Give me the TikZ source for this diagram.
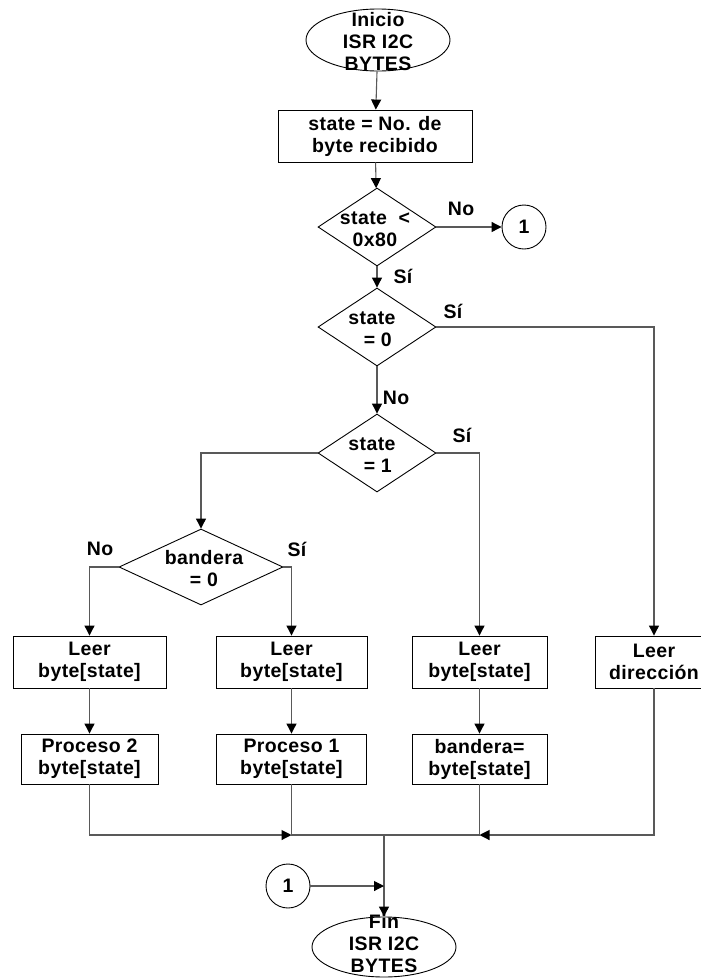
\documentclass[tikz,border=0pt]{standalone}
\usepackage{fontspec}
\setmainfont[LetterSpace=2]{Liberation Sans}
\usetikzlibrary{shapes.geometric,arrows.meta}
\begin{document}
\begin{tikzpicture}[x=1pt,y=-1pt,
 every node/.style={font=\bfseries\fontsize{19.5}{22}\selectfont,text=black},
 box/.style={draw=black,line width=0.9pt,rectangle,inner sep=0pt,align=center},
 dia/.style={draw=black,line width=0.9pt,diamond,inner sep=0pt,minimum width=118pt,minimum height=78pt},
 ell/.style={draw=black,line width=0.9pt,ellipse,inner sep=0pt,minimum width=144pt,minimum height=62pt},
 circ/.style={draw=black,line width=0.9pt,circle,inner sep=0pt,minimum size=44pt},
 txt/.style={align=center,inner sep=0pt},
 conn/.style={draw=black!65,line width=1.1pt},
 arr/.style={conn,-{Triangle[length=10pt,width=10pt,color=black]}}]
\useasboundingbox (0,0) rectangle (701,978);

% shapes
\node[ell] (start) at (378,40) {};
\node[txt] (startt) at (378,42) {Inicio\\ISR I2C\\BYTES};
\node[box,minimum width=194pt,minimum height=52pt] (b1) at (375,136) {state = No. de\\byte recibido};
\node[dia] (d1) at (377,227) {};
\node[txt] (d1t) at (375,229) {state \ <\\0x80};
\node[circ] (c1) at (524,227) {1};
\node[dia] (d2) at (377,327) {};
\node[txt] (d2t) at (372,329) {state\\\ \ = 0};
\node[dia] (d3) at (377,453) {};
\node[txt] (d3t) at (372,455) {state\\\ \ = 1};
\node[dia,minimum width=164pt,minimum height=76pt] (d4) at (201,567) {};
\node[txt] (d4t) at (204,569) {bandera\\= 0};

\node[box,minimum width=153pt,minimum height=52pt] (A1) at (89.5,662) {Leer\\byte[state]};
\node[box,minimum width=151pt,minimum height=52pt] (B1) at (291.5,662) {Leer\\byte[state]};
\node[box,minimum width=135pt,minimum height=52pt] (C1) at (479.5,662) {Leer\\byte[state]};
\node[box,minimum width=118pt,minimum height=52pt] (D1) at (654,662) {Leer\\dirección};

\node[box,minimum width=137pt,minimum height=50pt] (A2) at (89.5,759) {Proceso 2\\byte[state]};
\node[box,minimum width=150pt,minimum height=50pt] (B2) at (291.5,759) {Proceso 1\\byte[state]};
\node[box,minimum width=135pt,minimum height=50pt] (C2) at (479.5,759) {bandera=\\byte[state]};

\node[circ] (c2) at (288,886) {1};
\node[ell,minimum height=60pt] (fin) at (384,947) {};
\node[txt] (fint) at (384,944) {Fin\\ISR I2C\\BYTES};

% labels
\node[txt] (l1) at (461,209) {No};
\node[txt] (l2) at (403,276) {Sí};
\node[txt] (l3) at (453,311) {Sí};
\node[txt] (l4) at (396,398) {No};
\node[txt] (l5) at (462,435) {Sí};
\node[txt] (l6) at (100,549) {No};
\node[txt] (l7) at (297,549) {Sí};

% junction coordinates
\coordinate (m) at (384,835);
\coordinate (mB) at (291.5,835);
\coordinate (mC) at (479.5,835);
\coordinate (m2) at (384,886);

% connectors
\draw[arr] (start) -- (b1);
\draw[arr] (b1) -- (d1);
\draw[arr] (d1.east) -- (c1.west);
\draw[arr] (d1.south) -- (d2.north);
\draw[arr] (d2.east) -| (D1.north);
\draw[arr] (d2.south) -- (d3.north);
\draw[arr] (d3.east) -| (C1.north);
\draw[arr] (d3.west) -| (d4.north);
\draw[arr] (d4.west) -| (A1.north);
\draw[arr] (d4.east) -| (B1.north);
\draw[arr] (A1) -- (A2);
\draw[arr] (B1) -- (B2);
\draw[arr] (C1) -- (C2);
\draw[arr] (A2.south) |- (mB);
\draw[conn] (B2.south) -- (mB) -- (mC);
\draw[conn] (C2.south) -- (mC);
\draw[arr] (D1.south) |- (mC);
\draw[arr] (m) -- (fin.north);
\draw[arr] (c2) -- (m2);
\end{tikzpicture}
\end{document}
